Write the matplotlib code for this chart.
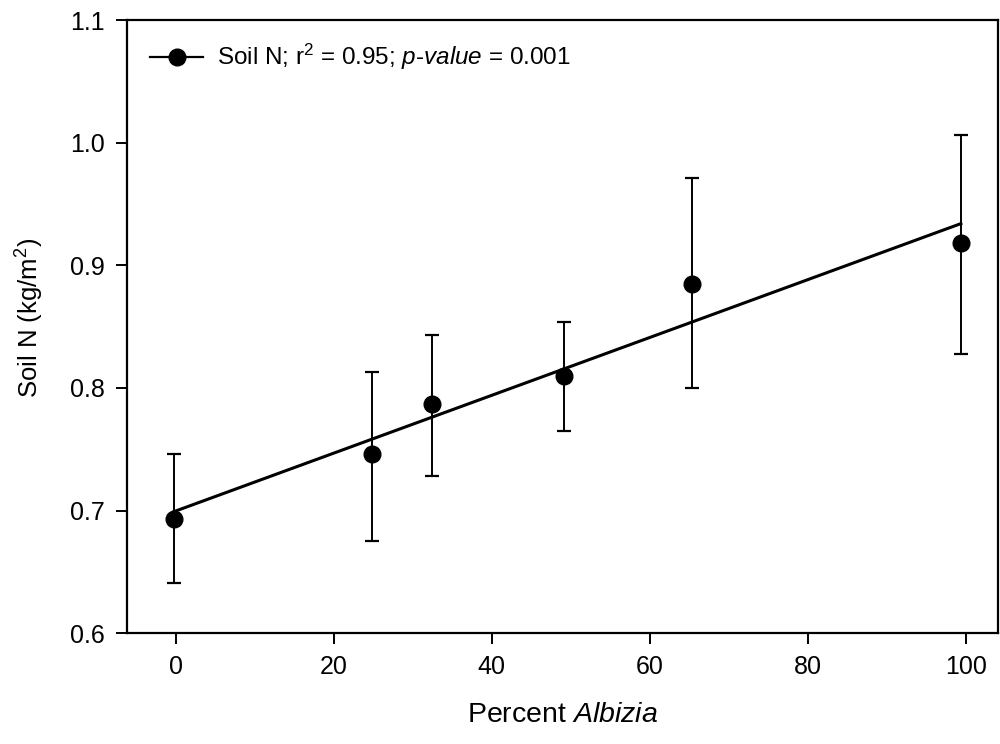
import matplotlib
matplotlib.use("Agg")
import matplotlib.pyplot as plt

plt.rcParams['font.family'] = ['Liberation Sans', 'DejaVu Sans']
plt.rcParams['mathtext.fontset'] = 'custom'
plt.rcParams['mathtext.rm'] = 'Liberation Sans'
plt.rcParams['mathtext.it'] = 'Liberation Sans:italic'

# data
percent_albizia = [-0.3, 24.8, 32.4, 49.2, 65.4, 99.4]
soil_n = [0.693, 0.746, 0.787, 0.810, 0.885, 0.918]
err_low = [0.641, 0.675, 0.728, 0.765, 0.800, 0.828]
err_high = [0.746, 0.813, 0.843, 0.854, 0.971, 1.006]

# fitted regression line (end points)
fit_x = [-0.3, 99.4]
fit_y = [0.699, 0.934]

yerr = [[m - lo for m, lo in zip(soil_n, err_low)],
        [hi - m for m, hi in zip(soil_n, err_high)]]

fig = plt.figure(figsize=(10, 7.44), dpi=100)
ax = fig.add_axes([0.127, 0.149, 0.871, 0.824])

ax.errorbar(percent_albizia, soil_n, yerr=yerr, fmt='none', ecolor='black',
            elinewidth=1.4, capsize=5, capthick=1.6)
ax.plot(fit_x, fit_y, color='black', lw=2.2)
ax.plot(percent_albizia, soil_n, 'o', color='black', ms=12)

# legend handle: line with marker
ax.plot([], [], '-o', color='black', lw=1.6, ms=12,
        label=r'Soil N; r$^2$ = 0.95; $\it{p}$-$\it{value}$ = 0.001')
ax.legend(loc='upper left', frameon=False, fontsize=17.5, handlelength=2.2,
          borderaxespad=0.0, handletextpad=0.55,
          bbox_to_anchor=(0.015, 0.98))

ax.set_xlim(-6.2, 104.1)
ax.set_ylim(0.6, 1.1)
ax.set_xticks([0, 20, 40, 60, 80, 100])
ax.set_yticks([0.6, 0.7, 0.8, 0.9, 1.0, 1.1])
ax.set_yticklabels(['0.6', '0.7', '0.8', '0.9', '1.0', '1.1'])

ax.tick_params(direction='out', length=8, width=1.4, labelsize=18, pad=8,
               colors='black')
for s in ax.spines.values():
    s.set_linewidth(1.6)

ax.set_xlabel(r'Percent $\it{Albizia}$', fontsize=20.5, va='center')
ax.xaxis.set_label_coords(0.5, -0.134)
ax.set_ylabel(r'Soil N (kg/m$^2$)', fontsize=18.5)
ax.yaxis.set_label_coords(-0.093, 0.514)

fig.savefig('out.png', dpi=100)
